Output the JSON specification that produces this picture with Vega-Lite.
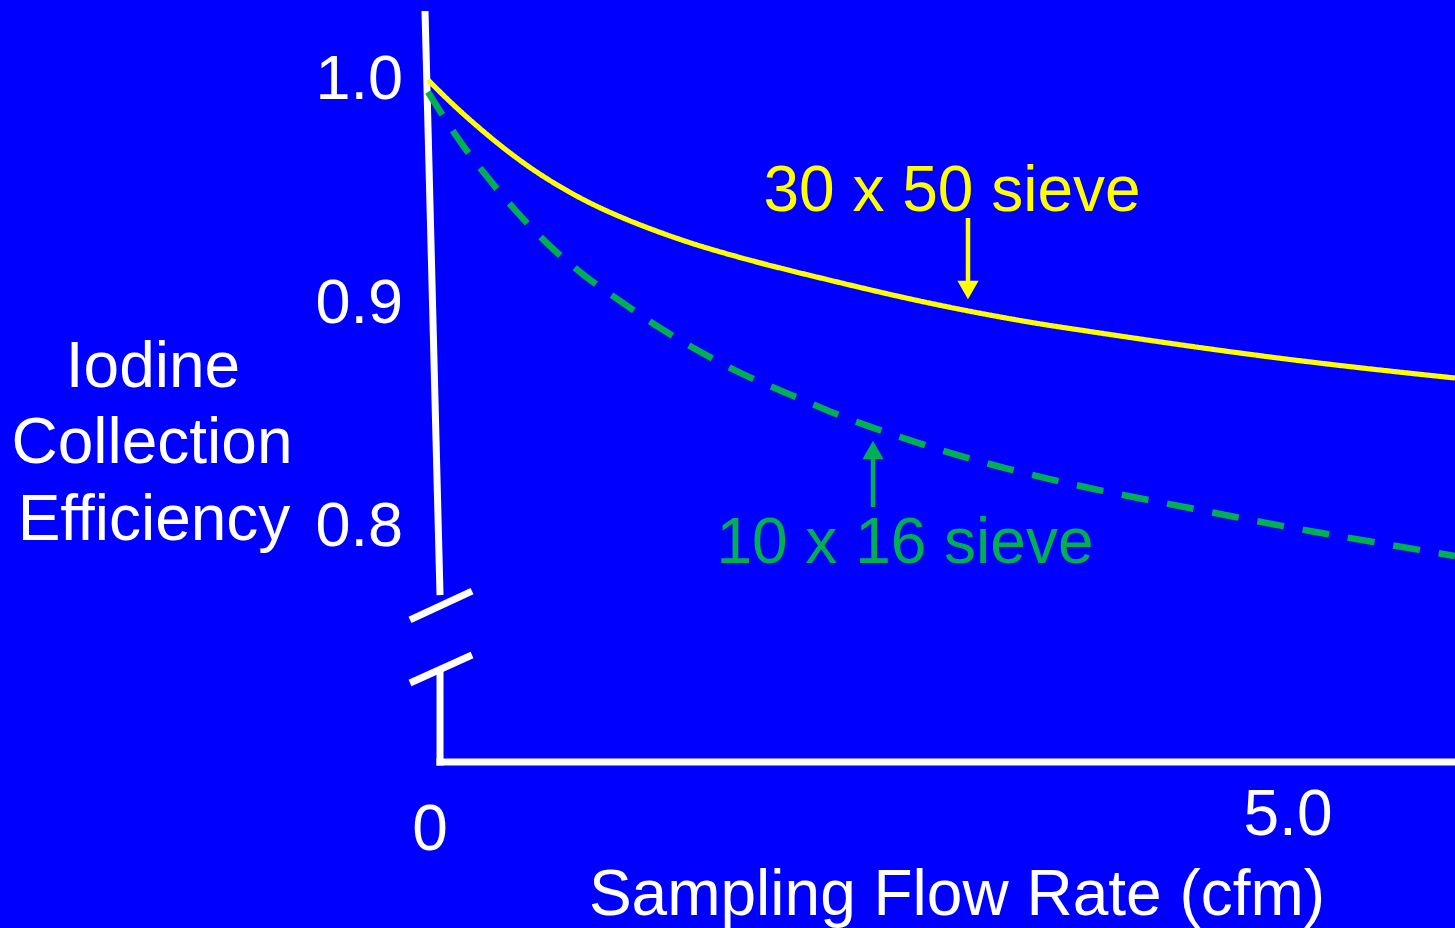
{
  "$schema": "https://vega.github.io/schema/vega-lite/v6.json",
  "width": 1455,
  "height": 928,
  "autosize": {"type": "none"},
  "padding": 0,
  "background": "#0000FF",
  "config": {"view": {"stroke": null}},
  "datasets": {
    "curves": [
      {"series": "30 x 50", "flow": 0.0, "eff": 1.0},
      {"series": "30 x 50", "flow": 0.1453, "eff": 0.98874},
      {"series": "30 x 50", "flow": 0.343, "eff": 0.97523},
      {"series": "30 x 50", "flow": 0.5349, "eff": 0.96351},
      {"series": "30 x 50", "flow": 0.7267, "eff": 0.9536},
      {"series": "30 x 50", "flow": 0.9244, "eff": 0.94505},
      {"series": "30 x 50", "flow": 1.1163, "eff": 0.93829},
      {"series": "30 x 50", "flow": 1.3081, "eff": 0.93243},
      {"series": "30 x 50", "flow": 1.5058, "eff": 0.92703},
      {"series": "30 x 50", "flow": 1.6977, "eff": 0.92252},
      {"series": "30 x 50", "flow": 1.9709, "eff": 0.91667},
      {"series": "30 x 50", "flow": 2.3547, "eff": 0.90946},
      {"series": "30 x 50", "flow": 2.7442, "eff": 0.90225},
      {"series": "30 x 50", "flow": 3.1337, "eff": 0.89595},
      {"series": "30 x 50", "flow": 3.5174, "eff": 0.89054},
      {"series": "30 x 50", "flow": 3.7907, "eff": 0.88739},
      {"series": "30 x 50", "flow": 4.2558, "eff": 0.88198},
      {"series": "30 x 50", "flow": 4.8372, "eff": 0.87568},
      {"series": "30 x 50", "flow": 5.4186, "eff": 0.87027},
      {"series": "30 x 50", "flow": 5.9709, "eff": 0.86577},
      {"series": "10 x 16", "flow": 0.0, "eff": 0.99459},
      {"series": "10 x 16", "flow": 0.1744, "eff": 0.97297},
      {"series": "10 x 16", "flow": 0.343, "eff": 0.95631},
      {"series": "10 x 16", "flow": 0.5174, "eff": 0.94009},
      {"series": "10 x 16", "flow": 0.7093, "eff": 0.92477},
      {"series": "10 x 16", "flow": 0.9128, "eff": 0.91126},
      {"series": "10 x 16", "flow": 1.1337, "eff": 0.89955},
      {"series": "10 x 16", "flow": 1.3605, "eff": 0.88739},
      {"series": "10 x 16", "flow": 1.593, "eff": 0.87703},
      {"series": "10 x 16", "flow": 1.8314, "eff": 0.86712},
      {"series": "10 x 16", "flow": 2.0872, "eff": 0.85901},
      {"series": "10 x 16", "flow": 2.3372, "eff": 0.85045},
      {"series": "10 x 16", "flow": 2.5872, "eff": 0.84324},
      {"series": "10 x 16", "flow": 2.8488, "eff": 0.83649},
      {"series": "10 x 16", "flow": 3.1105, "eff": 0.83018},
      {"series": "10 x 16", "flow": 3.3721, "eff": 0.82478},
      {"series": "10 x 16", "flow": 3.6337, "eff": 0.81982},
      {"series": "10 x 16", "flow": 3.8953, "eff": 0.81532},
      {"series": "10 x 16", "flow": 4.157, "eff": 0.81126},
      {"series": "10 x 16", "flow": 4.4302, "eff": 0.80721},
      {"series": "10 x 16", "flow": 4.6919, "eff": 0.80315},
      {"series": "10 x 16", "flow": 4.9651, "eff": 0.7991},
      {"series": "10 x 16", "flow": 5.2267, "eff": 0.7955},
      {"series": "10 x 16", "flow": 5.4942, "eff": 0.79189},
      {"series": "10 x 16", "flow": 5.7674, "eff": 0.78829},
      {"series": "10 x 16", "flow": 5.9709, "eff": 0.78559}
    ],
    "axislines": [
      {"part": "y upper", "x1": -0.0174, "y1": 1.0311, "x2": 0.0698, "y2": 0.768},
      {"part": "break top", "x1": -0.1047, "y1": 0.7568, "x2": 0.2558, "y2": 0.7698},
      {"part": "break bottom", "x1": -0.1047, "y1": 0.7284, "x2": 0.2558, "y2": 0.741},
      {"part": "y lower", "x1": 0.0698, "y1": 0.73423, "x2": 0.0698, "y2": 0.69122},
      {"part": "x axis", "x1": 0.0494, "y1": 0.69279, "x2": 5.9709, "y2": 0.69279}
    ],
    "arrows": [
      {"series": "30 x 50", "x": 3.1395, "y1": 0.93784, "y2": 0.90766, "hy": 0.90541, "dir": "down"},
      {"series": "10 x 16", "x": 2.5872, "y1": 0.83108, "y2": 0.80766, "hy": 0.83333, "dir": "up"}
    ],
    "ticklabels": [
      {"label": "1.0", "x": -0.1453, "y": 0.99144},
      {"label": "0.9", "x": -0.1453, "y": 0.89054},
      {"label": "0.8", "x": -0.1453, "y": 0.79009}
    ],
    "labels": [
      {"group": "axis", "label": "Iodine", "x": -1.5988, "y": 0.86171},
      {"group": "axis", "label": "Collection", "x": -1.6047, "y": 0.82748},
      {"group": "axis", "label": "Efficiency", "x": -1.593, "y": 0.79279},
      {"group": "axis", "label": "0", "x": 0.0116, "y": 0.65315},
      {"group": "axis", "label": "5.0", "x": 5.0, "y": 0.65991},
      {"group": "axis", "label": "Sampling Flow Rate (cfm)", "x": 3.0756, "y": 0.62387},
      {"group": "30 x 50", "label": "30 x 50 sieve", "x": 3.0465, "y": 0.94099},
      {"group": "10 x 16", "label": "10 x 16 sieve", "x": 2.773, "y": 0.78243}
    ]
  },
  "layer": [
    {
      "data": {"name": "axislines"},
      "mark": {"type": "rule", "color": "#FFFFFF", "strokeWidth": 7, "strokeCap": "butt"},
      "encoding": {
        "x": {"field": "x1", "type": "quantitative", "scale": {"domain": [-2.4884, 5.9709], "nice": false, "zero": false}, "axis": null},
        "y": {"field": "y1", "type": "quantitative", "scale": {"domain": [0.61802, 1.03604], "nice": false, "zero": false}, "axis": null},
        "x2": {"field": "x2"},
        "y2": {"field": "y2"}
      }
    },
    {
      "data": {"name": "curves"},
      "mark": {"type": "line", "interpolate": "basis", "strokeCap": "butt"},
      "encoding": {
        "x": {"field": "flow", "type": "quantitative"},
        "y": {"field": "eff", "type": "quantitative"},
        "color": {"field": "series", "type": "nominal", "scale": {"domain": ["30 x 50", "10 x 16", "axis"], "range": ["#FFFF00", "#00B050", "#FFFFFF"]}, "legend": null},
        "strokeDash": {"field": "series", "type": "nominal", "scale": {"domain": ["30 x 50", "10 x 16"], "range": [[1, 0], [27, 19]]}, "legend": null},
        "strokeWidth": {"field": "series", "type": "nominal", "scale": {"domain": ["30 x 50", "10 x 16"], "range": [5.2, 6.5]}, "legend": null}
      }
    },
    {
      "data": {"name": "arrows"},
      "mark": {"type": "rule", "strokeWidth": 4.5},
      "encoding": {
        "x": {"field": "x", "type": "quantitative"},
        "y": {"field": "y1", "type": "quantitative"},
        "y2": {"field": "y2"},
        "color": {"field": "series", "type": "nominal", "legend": null}
      }
    },
    {
      "data": {"name": "arrows"},
      "mark": {"type": "point", "filled": true, "size": 450, "opacity": 1},
      "encoding": {
        "x": {"field": "x", "type": "quantitative"},
        "y": {"field": "hy", "type": "quantitative"},
        "shape": {"field": "dir", "type": "nominal", "scale": {"domain": ["down", "up"], "range": ["triangle-down", "triangle-up"]}, "legend": null},
        "color": {"field": "series", "type": "nominal", "legend": null}
      }
    },
    {
      "data": {"name": "ticklabels"},
      "mark": {"type": "text", "align": "right", "baseline": "alphabetic", "font": "Liberation Sans", "fontSize": 63, "color": "#FFFFFF"},
      "encoding": {
        "x": {"field": "x", "type": "quantitative"},
        "y": {"field": "y", "type": "quantitative"},
        "text": {"field": "label"}
      }
    },
    {
      "data": {"name": "labels"},
      "mark": {"type": "text", "align": "center", "baseline": "alphabetic", "font": "Liberation Sans", "fontSize": 64},
      "encoding": {
        "x": {"field": "x", "type": "quantitative"},
        "y": {"field": "y", "type": "quantitative"},
        "text": {"field": "label"},
        "color": {"field": "group", "type": "nominal", "legend": null}
      }
    }
  ]
}
